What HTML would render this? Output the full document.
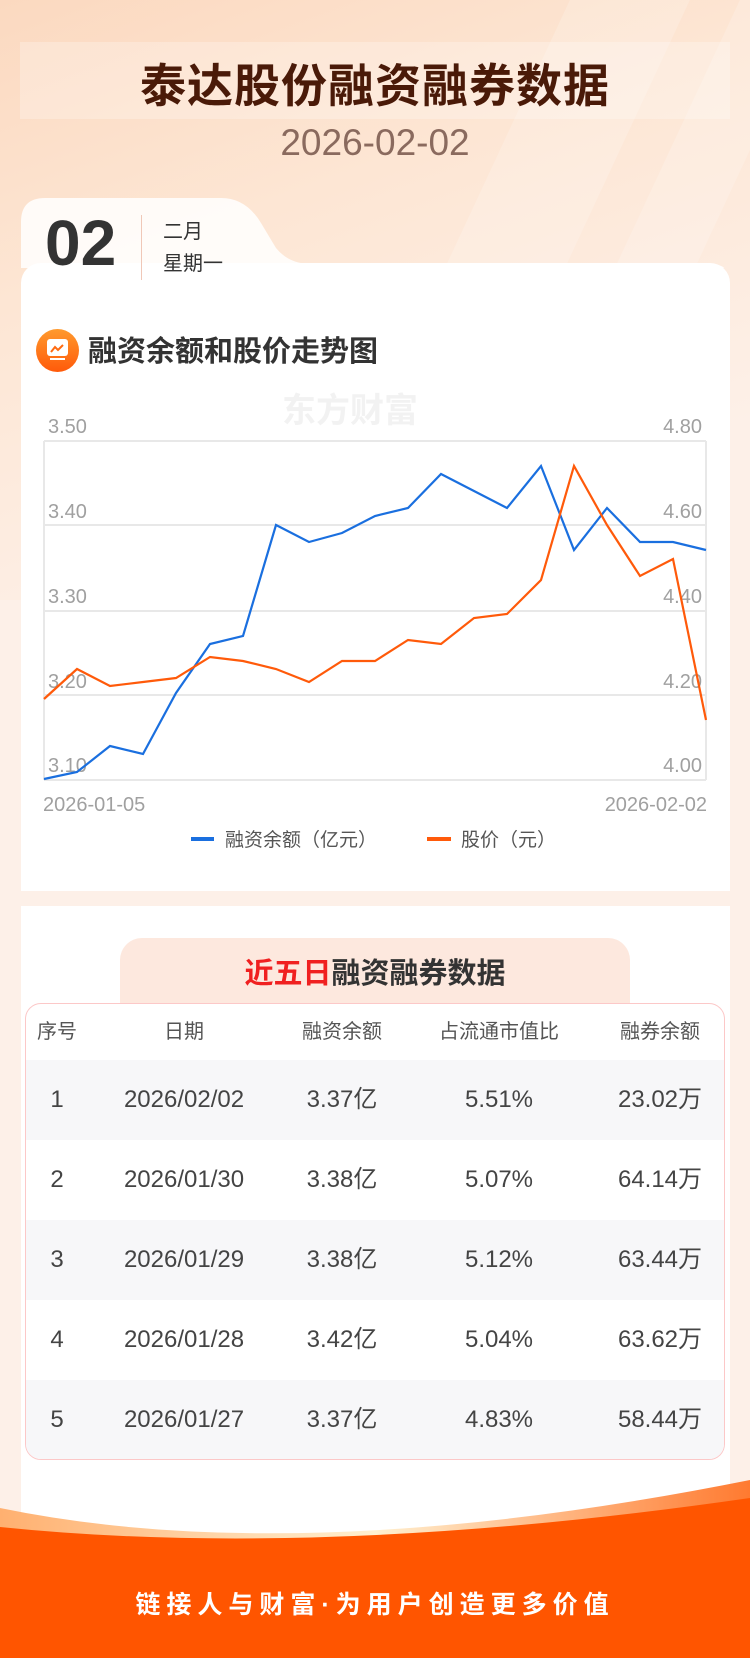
<!DOCTYPE html>
<html><head><meta charset="utf-8"><style>
*{margin:0;padding:0;box-sizing:border-box}
body{width:750px;height:1658px;position:relative;overflow:hidden;font-family:"Liberation Sans","Noto Sans CJK SC",sans-serif;background:#fdf0e8}
.abs{position:absolute}
.bg{left:0;top:0;width:750px;height:600px;background:linear-gradient(160deg,#fbd9c0 0%,#fde6d4 35%,#fdf0e8 80%)}
.stripe{background:rgba(255,255,255,0.18);transform:skewX(-25deg)}
.band{left:20px;top:42px;width:710px;height:77px;background:rgba(255,255,255,0.25)}
.title{left:0;width:750px;top:50px;text-align:center;font-size:46px;font-weight:bold;color:#4a1a08;letter-spacing:1px}
.date{left:0;width:750px;top:122px;text-align:center;font-size:37px;color:#8a6a5e}
.card{background:#fff}
.row{position:absolute;left:0;width:700px}
.row div{position:absolute;top:0;height:100%;text-align:center;white-space:nowrap}
.c1{left:0;width:62px}.c2{left:62px;width:192px}.c3{left:254px;width:124px}.c4{left:378px;width:190px}.c5{left:568px;width:132px}
.hr{top:0;height:56px;line-height:56px;font-size:20px;color:#555}
.hr div{line-height:56px}
.br{height:80px;font-size:24px;color:#444}
.br div{line-height:80px}
.u{font-family:"Noto Sans CJK SC",sans-serif;line-height:0;vertical-align:0}
</style></head><body>
<div class="abs bg"></div>
<div class="abs stripe" style="left:430px;top:0;width:120px;height:600px"></div>
<div class="abs stripe" style="left:600px;top:0;width:80px;height:600px"></div>
<div class="abs band"></div>
<div class="abs title">泰达股份融资融券数据</div>
<div class="abs date">2026-02-02</div>
<svg class="abs" style="left:21px;top:198px" width="709" height="70"><path d="M0 70 V24 Q0 0 24 0 H200 Q225 0 240 25 L255 50 Q268 66 290 66 H690 Q709 66 709 85 V70 Z" fill="#fff" fill-opacity="0.85"/></svg>
<div class="abs card" style="left:21px;top:263px;width:709px;height:628px;border-radius:20px 20px 0 0"></div>
<div class="abs" style="left:45px;top:206px;font-size:64px;font-weight:bold;color:#333">02</div>
<div class="abs" style="left:141px;top:215px;width:1px;height:65px;background:#f0c8b8"></div>
<div class="abs" style="left:163px;top:215px;font-size:20px;color:#333">二月</div>
<div class="abs" style="left:163px;top:247px;font-size:20px;color:#333">星期一</div>
<div class="abs" style="left:36px;top:329px;width:43px;height:43px;border-radius:50%;background:linear-gradient(180deg,#ff9a2e,#ff5a0a)"></div>
<div class="abs" style="left:47px;top:339px;width:21px;height:17px;background:#fff;border-radius:3px"></div>
<div class="abs" style="left:50px;top:358px;width:15px;height:2px;background:#fff"></div>
<svg class="abs" style="left:49px;top:342px" width="17" height="12"><polyline points="2,10 6,5 9,8 14,3" fill="none" stroke="#ff6a10" stroke-width="2"/></svg>
<div class="abs" style="left:88px;top:328px;font-size:29px;font-weight:bold;color:#333">融资余额和股价走势图</div>
<svg class="abs" style="left:0;top:380px" width="750" height="480" font-family="Liberation Sans, Noto Sans CJK SC, sans-serif">
<text x="350" y="42" font-size="34" font-weight="bold" fill="#f2f2f2" text-anchor="middle">东方财富</text>
<g stroke="#e8e8e8" stroke-width="2"><line x1="44" y1="61" x2="706" y2="61"/><line x1="44" y1="145" x2="706" y2="145"/><line x1="44" y1="231" x2="706" y2="231"/><line x1="44" y1="315" x2="706" y2="315"/><line x1="44" y1="400" x2="706" y2="400"/><line x1="44" y1="61" x2="44" y2="400"/><line x1="706" y1="61" x2="706" y2="400"/></g>
<g font-size="20" fill="#a0a0a0"><text x="48" y="53">3.50</text><text x="48" y="138">3.40</text><text x="48" y="223">3.30</text><text x="48" y="308">3.20</text><text x="48" y="392">3.10</text>
<g text-anchor="end"><text x="702" y="53">4.80</text><text x="702" y="138">4.60</text><text x="702" y="223">4.40</text><text x="702" y="308">4.20</text><text x="702" y="392">4.00</text></g>
<text x="43" y="431">2026-01-05</text><text x="707" y="431" text-anchor="end">2026-02-02</text></g>
<polyline fill="none" stroke="#1a6fdf" stroke-width="2.2" points="44,399 77,392 110,366 143,374 176,313 210,264 243,256 276,145 309,162 342,153 375,136 408,128 441,94 474,111 507,128 541,86 574,170 607,128 640,162 673,162 706,170"/>
<polyline fill="none" stroke="#ff5a0a" stroke-width="2.2" points="44,319 77,289 110,306 143,302 176,298 210,277 243,281 276,289 309,302 342,281 375,281 408,260 441,264 474,238 507,234 541,200 574,86 607,145 640,196 673,179 706,340"/>
<line x1="191" y1="459" x2="214" y2="459" stroke="#1a6fdf" stroke-width="4"/>
<text x="225" y="466" font-size="19" fill="#555">融资余额（亿元）</text>
<line x1="427" y1="459" x2="451" y2="459" stroke="#ff5a0a" stroke-width="4"/>
<text x="461" y="466" font-size="19" fill="#555">股价（元）</text>
</svg>
<div class="abs card" style="left:21px;top:906px;width:709px;height:660px"></div>
<div class="abs" style="left:120px;top:938px;width:510px;height:70px;background:#fde8de;border-radius:22px 22px 0 0"></div>
<div class="abs" style="left:120px;top:950px;width:510px;text-align:center;font-size:29px;font-weight:bold;color:#333"><span style="color:#f02020">近五日</span>融资融券数据</div>
<div class="abs" style="left:25px;top:1003px;width:700px;height:457px;border:1px solid #fcc8c8;border-radius:16px;background:#fff;overflow:hidden">
<div class="abs" style="left:0;top:56px;width:700px;height:80px;background:#f7f7f9"></div>
<div class="abs" style="left:0;top:216px;width:700px;height:80px;background:#f7f7f9"></div>
<div class="abs" style="left:0;top:376px;width:700px;height:81px;background:#f7f7f9"></div>
<div class="row hr"><div class="c1">序号</div><div class="c2">日期</div><div class="c3">融资余额</div><div class="c4">占流通市值比</div><div class="c5">融券余额</div></div>
<div class="row br" style="top:56px"><div class="c1">1</div><div class="c2">2026/02/02</div><div class="c3">3.37<span class="u">亿</span></div><div class="c4">5.51%</div><div class="c5">23.02<span class="u">万</span></div></div>
<div class="row br" style="top:136px"><div class="c1">2</div><div class="c2">2026/01/30</div><div class="c3">3.38<span class="u">亿</span></div><div class="c4">5.07%</div><div class="c5">64.14<span class="u">万</span></div></div>
<div class="row br" style="top:216px"><div class="c1">3</div><div class="c2">2026/01/29</div><div class="c3">3.38<span class="u">亿</span></div><div class="c4">5.12%</div><div class="c5">63.44<span class="u">万</span></div></div>
<div class="row br" style="top:296px"><div class="c1">4</div><div class="c2">2026/01/28</div><div class="c3">3.42<span class="u">亿</span></div><div class="c4">5.04%</div><div class="c5">63.62<span class="u">万</span></div></div>
<div class="row br" style="top:376px"><div class="c1">5</div><div class="c2">2026/01/27</div><div class="c3">3.37<span class="u">亿</span></div><div class="c4">4.83%</div><div class="c5">58.44<span class="u">万</span></div></div>
</div>
<svg class="abs" style="left:0;top:1470px" width="750" height="188">
<defs><linearGradient id="g" x1="0" x2="1"><stop offset="0" stop-color="#ffb070"/><stop offset="0.5" stop-color="#fff0d0"/><stop offset="1" stop-color="#ff7a30"/></linearGradient></defs>
<path d="M0 38 Q300 100 750 10 V188 H0 Z" fill="url(#g)"/>
<path d="M0 57 Q320 90 750 28 V188 H0 Z" fill="#ff5500"/>
</svg>
<div class="abs" style="left:0;width:750px;top:1585px;text-align:center;font-size:25px;font-weight:bold;color:#fff;letter-spacing:6px">链接人与财富·为用户创造更多价值</div>
</body></html>
